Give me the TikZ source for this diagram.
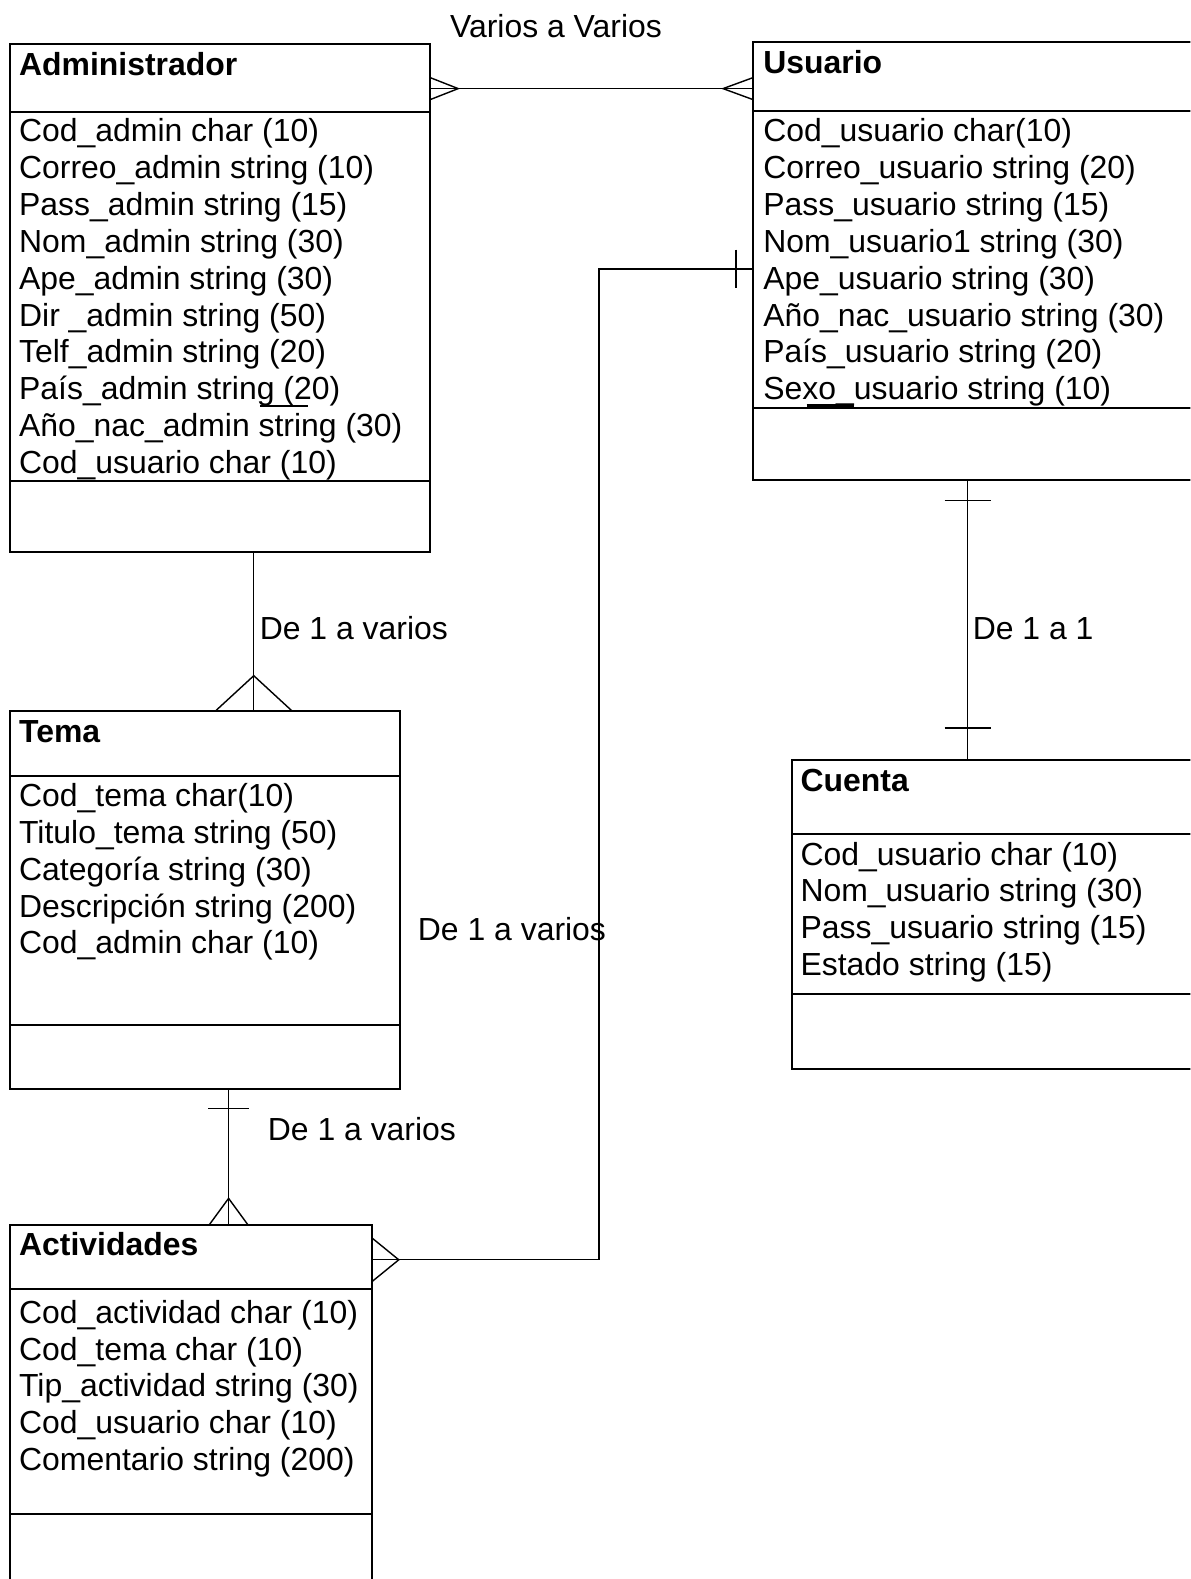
\documentclass[tikz,border=0pt]{standalone}
\usepackage{fontspec}
\setmainfont{Liberation Sans}
\begin{document}
\begin{tikzpicture}[x=1pt,y=-1pt,
  entity/.style={draw, line width=2pt, inner sep=0pt, outer sep=0pt, anchor=north west, rectangle},
  divider/.style={line width=2pt},
  rel/.style={line width=1.4pt},
  txt/.style={inner sep=0pt, outer sep=0pt, anchor=base west, font=\fontsize{31.7}{36.56}\selectfont},
  ttl/.style={txt, font=\fontsize{31.7}{36.56}\selectfont\bfseries}
]
\useasboundingbox (0,0) rectangle (1182,1568);
\clip (0,0) rectangle (1182,1568);

% ---------- Administrador ----------
\node[entity, minimum width=417pt, minimum height=504pt] (admin) at (10,44) {};
\draw[divider] ([yshift=-67pt]admin.north west) -- ([yshift=-67pt]admin.north east);
\draw[divider] ([yshift=-434pt]admin.north west) -- ([yshift=-434pt]admin.north east);
\node[ttl] (adminT) at (19,74.5) {Administrador};
\foreach \t [count=\i] in {Cod\_admin char (10), Correo\_admin string (10), Pass\_admin string (15),
  Nom\_admin string (30), Ape\_admin string (30), Dir \_admin string (50), Telf\_admin string (20),
  País\_admin string (20), Año\_nac\_admin string (30), Cod\_usuario char (10)}
  \node[txt] (adminA\i) at (19,{141+36.56*(\i-1)}) {\t};
\draw[line width=1.6pt] (258,403) -- (306,403);

% ---------- Usuario ----------
\node[entity, minimum width=452pt, minimum height=435pt] (usuario) at (748,42) {};
\draw[divider] ([yshift=-68pt]usuario.north west) -- ([yshift=-68pt]usuario.north east);
\draw[divider] ([yshift=-363pt]usuario.north west) -- ([yshift=-363pt]usuario.north east);
\node[ttl] (usuarioT) at (758,73) {Usuario};
\foreach \t [count=\i] in {Cod\_usuario char(10), Correo\_usuario string (20), Pass\_usuario string (15),
  Nom\_usuario1 string (30), Ape\_usuario string (30), Año\_nac\_usuario string (30),
  País\_usuario string (20), Sexo\_usuario string (10)}
  \node[txt] (usuarioA\i) at (758,{141+36.56*(\i-1)}) {\t};
\draw[line width=3pt] (801,402.5) -- (848,402.5);

% ---------- Tema ----------
\node[entity, minimum width=387pt, minimum height=375pt] (tema) at (10,706) {};
\draw[divider] ([yshift=-65pt]tema.north west) -- ([yshift=-65pt]tema.north east);
\draw[divider] ([yshift=-312pt]tema.north west) -- ([yshift=-312pt]tema.north east);
\node[ttl] (temaT) at (19,737) {Tema};
\foreach \t [count=\i] in {Cod\_tema char(10), Titulo\_tema string (50), Categoría string (30),
  Descripción string (200), Cod\_admin char (10)}
  \node[txt] (temaA\i) at (19,{801+36.56*(\i-1)}) {\t};

% ---------- Actividades ----------
\node[entity, minimum width=359pt, minimum height=400pt] (act) at (10,1216) {};
\draw[divider] ([yshift=-64pt]act.north west) -- ([yshift=-64pt]act.north east);
\draw[divider] ([yshift=-287pt]act.north west) -- ([yshift=-287pt]act.north east);
\node[ttl] (actT) at (19,1247) {Actividades};
\foreach \t [count=\i] in {Cod\_actividad char (10), Cod\_tema char (10), Tip\_actividad string (30),
  Cod\_usuario char (10), Comentario string (200)}
  \node[txt] (actA\i) at (19,{1314+36.56*(\i-1)}) {\t};

% ---------- Cuenta ----------
\node[entity, minimum width=420pt, minimum height=307pt] (cuenta) at (786,755) {};
\draw[divider] ([yshift=-73pt]cuenta.north west) -- ([yshift=-73pt]cuenta.north east);
\draw[divider] ([yshift=-232pt]cuenta.north west) -- ([yshift=-232pt]cuenta.north east);
\node[ttl] (cuentaT) at (795,786) {Cuenta};
\foreach \t [count=\i] in {Cod\_usuario char (10), Nom\_usuario string (30), Pass\_usuario string (15),
  Estado string (15)}
  \node[txt] (cuentaA\i) at (795,{859+36.56*(\i-1)}) {\t};

% ---------- Relationships ----------
% Administrador -- Usuario (many to many)
\draw[rel] ([yshift=-44pt]admin.north east) -- ([yshift=-46pt]usuario.north west);
\draw[rel] ([yshift=-33pt]admin.north east) -- ++(28,11) -- ++(-28,11);
\draw[rel] ([yshift=-35pt]usuario.north west) -- ++(-30,11) -- ++(30,11);
\node[txt] (lblMM) at (447,37) {Varios a Varios};

% Administrador -- Tema (one to many)
\draw[rel] ([xshift=242pt]admin.south west) -- ([xshift=242pt]tema.north west);
\draw[rel] ([xshift=204pt]tema.north west) -- ++(38,-35) -- ++(38,35);
\node[txt] (lblAT) at (258,635) {De 1 a varios};

% Tema -- Actividades (one to many)
\draw[rel] ([xshift=217pt]tema.south west) -- ([xshift=217pt]act.north west);
\draw[rel] ([xshift=197pt,yshift=-20pt]tema.south west) -- ++(40,0);
\draw[rel] ([xshift=198pt]act.north west) -- ++(19,-26) -- ++(19,26);
\node[txt] (lblTA) at (266,1133) {De 1 a varios};

% Usuario -- Actividades (one to many)
\draw[rel] ([yshift=-225pt]usuario.north west) -- ++(-153,0) |- ([yshift=-35pt]act.north east);
\draw[rel] ([xshift=-17pt,yshift=-206pt]usuario.north west) -- ++(0,38);
\draw[rel] ([yshift=-13pt]act.north east) -- ++(27,22) -- ++(-27,22);
\node[txt] (lblUA) at (415,934) {De 1 a varios};

% Usuario -- Cuenta (one to one)
\draw[rel] ([xshift=213pt]usuario.south west) -- ([xshift=175pt]cuenta.north west);
\draw[rel] ([xshift=190pt,yshift=-20pt]usuario.south west) -- ++(46,0);
\draw[rel] ([xshift=152pt,yshift=32pt]cuenta.north west) -- ++(46,0);
\node[txt] (lblUC) at (966,635) {De 1 a 1};
\end{tikzpicture}
\end{document}
